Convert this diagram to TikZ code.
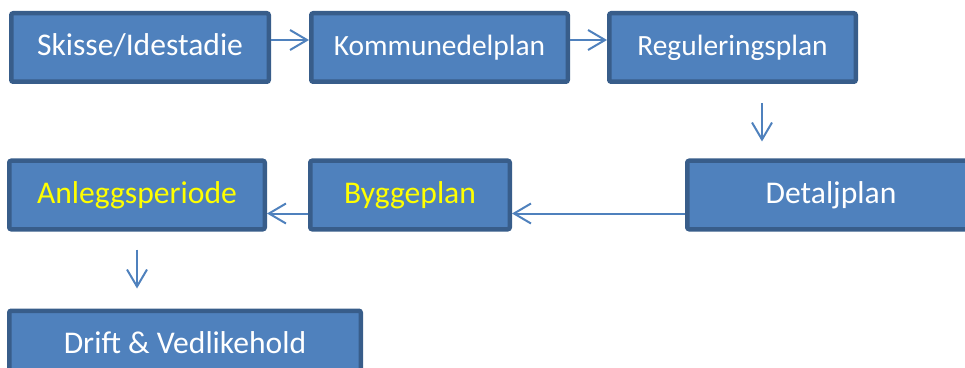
\documentclass[tikz,border=0pt]{standalone}
\usepackage{fontspec}
\setmainfont{Carlito}
\usetikzlibrary{arrows.meta}
\usetikzlibrary{positioning}
\definecolor{boxfill}{HTML}{4F81BD}
\definecolor{boxline}{HTML}{385D8A}
\definecolor{txtyellow}{HTML}{FFFF00}

\begin{document}
\begin{tikzpicture}[x=1pt, y=1pt,
    box/.style={draw=boxline, fill=boxfill, line width=4.5pt, rounded corners=2pt,
      minimum height=68.5pt, inner sep=0pt, text=white, text height=21pt, text depth=5pt,
      font=\fontsize{31.6}{36}\selectfont},
    small/.style={font=\fontsize{29.4}{34}\selectfont},
    yel/.style={text=txtyellow},
    arr/.style={draw=boxfill, line width=2pt, -{Straight Barb[length=17pt, width=20pt]}}]
  \useasboundingbox (0,0) rectangle (965,367);
  % top row
  \node[box, minimum width=257.5pt] (sk) at (140,319.5) {Skisse/Idestadie};
  \node[box, small, minimum width=256.5pt, right=38pt of sk] (kd) {Kommunedelplan};
  \node[box, small, minimum width=246.5pt, right=37pt of kd] (rp) {Reguleringsplan};
  % bottom rows
  \node[box, minimum width=287.5pt] (dp) at (831,172) {Detaljplan};
  \node[box, yel, minimum width=199.5pt, left=173pt of dp] (bp) {Byggeplan};
  \node[box, yel, minimum width=255.5pt, left=41pt of bp] (ap) {Anleggsperiode};
  \node[box, minimum width=351.5pt, below=77pt of ap.south west, anchor=north west] (dv) {Drift \& Vedlikehold};
  \coordinate (rpd) at ([xshift=29.5pt]rp.south);
  \coordinate (dpw) at ([yshift=-18.5pt]dp.west);
  \coordinate (bpw) at ([yshift=-18.5pt]bp.west);
  \draw[arr] ([yshift=7.5pt]sk.east) -- ([yshift=7.5pt]kd.west);
  \draw[arr] ([yshift=7.5pt]kd.east) -- ([yshift=7.5pt]rp.west);
  \draw[arr, shorten <=19pt, shorten >=17pt] (rpd) -- (rpd |- dp.north);
  \draw[arr] (dpw) -- (dpw -| bp.east);
  \draw[arr] (bpw) -- (bpw -| ap.east);
  \draw[arr, shorten <=18pt, shorten >=20pt] (ap.south) -- (ap.south |- dv.north);
\end{tikzpicture}
\end{document}
